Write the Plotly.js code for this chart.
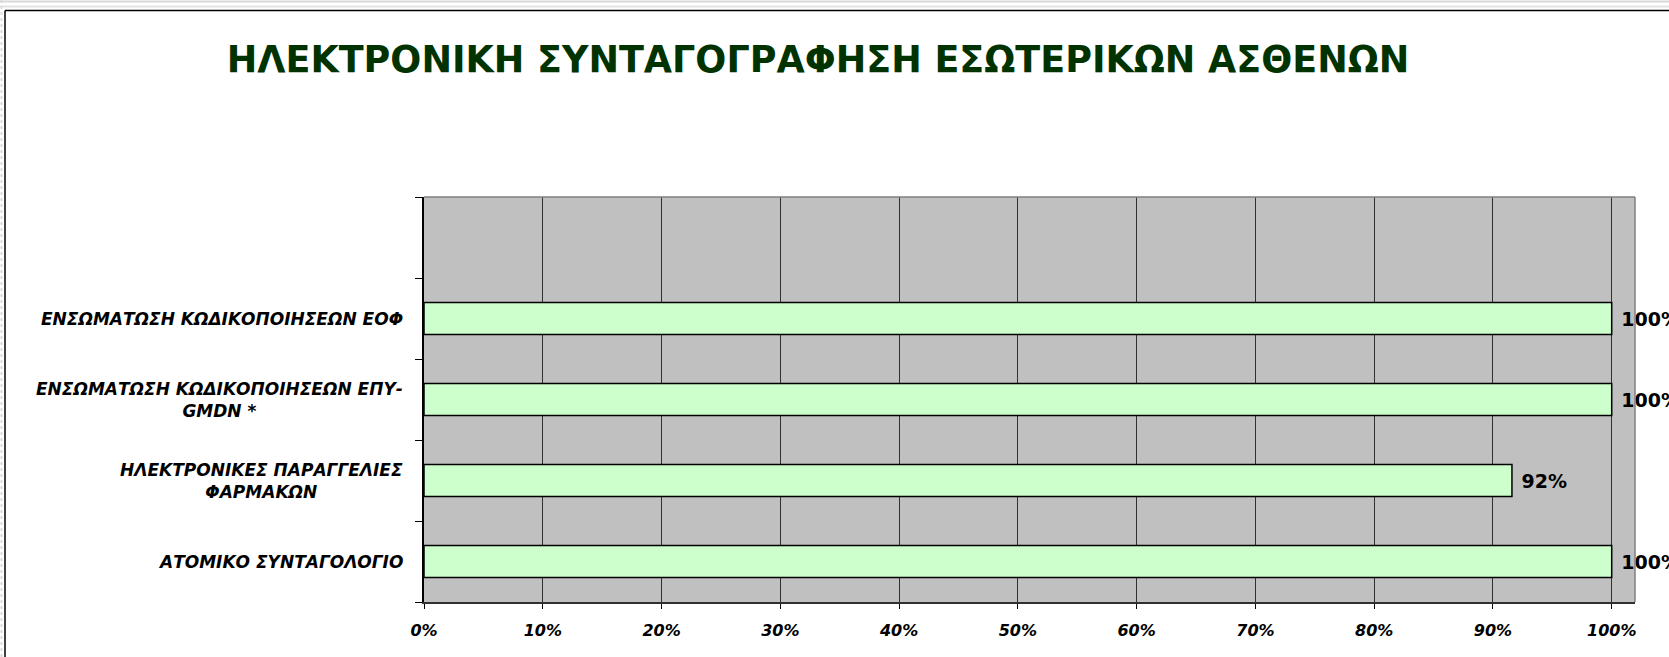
<!DOCTYPE html>
<html>
<head>
<meta charset="utf-8">
<script src="https://cdn.plot.ly/plotly-3.0.1.min.js"></script>
<style>
  html, body { margin: 0; padding: 0; background: #ffffff; }
  #chart { width: 1669px; height: 657px; }
</style>
</head>
<body>
<div id="chart"></div>
<script>
// ---- data (bottom to top, as drawn) ----
const categories = [
  "ΑΤΟΜΙΚΟ ΣΥΝΤΑΓΟΛΟΓΙΟ",
  "ΗΛΕΚΤΡΟΝΙΚΕΣ ΠΑΡΑΓΓΕΛΙΕΣ<br>ΦΑΡΜΑΚΩΝ",
  "ΕΝΣΩΜΑΤΩΣΗ ΚΩΔΙΚΟΠΟΙΗΣΕΩΝ ΕΠΥ-<br>GMDN *",
  "ΕΝΣΩΜΑΤΩΣΗ ΚΩΔΙΚΟΠΟΙΗΣΕΩΝ ΕΟΦ",
  " "
];
const values = [1.00, 0.916, 1.00, 1.00, null];
const xTickVals = [0, 0.1, 0.2, 0.3, 0.4, 0.5, 0.6, 0.7, 0.8, 0.9, 1.0];
const xTickText = ["0%", "10%", "20%", "30%", "40%", "50%", "60%", "70%", "80%", "90%", "100%"];
const chartTitle = "ΗΛΕΚΤΡΟΝΙΚΗ ΣΥΝΤΑΓΟΓΡΑΦΗΣΗ ΕΣΩΤΕΡΙΚΩΝ ΑΣΘΕΝΩΝ";

// ---- layout geometry ----
const W = 1669, H = 657;
const M = { l: 424, r: 34, t: 197, b: 55 };
const PW = W - M.l - M.r, PH = H - M.t - M.b;
const px = X => (X - M.l) / PW;
const py = Y => (H - M.b - Y) / PH;

const FONT = "DejaVu Sans, Verdana, sans-serif";
const TITLE_FONT = "DejaVu Sans, Arial, sans-serif";

const barText = values.map(v => (v === null ? "" : " " + Math.round(v * 100) + "%"));

const trace = {
  type: "bar",
  orientation: "h",
  y: categories,
  x: values,
  text: barText,
  textposition: "outside",
  cliponaxis: false,
  constraintext: "none",
  textfont: { family: FONT, size: 19, color: "#000000", weight: "bold" },
  marker: { color: "#CCFFCC", line: { color: "#000000", width: 1.5 } },
  hoverinfo: "skip"
};

// category labels as annotations (centered multi-line like the original)
const labelAnnotations = categories.filter(c => c.trim() !== "").map(c => ({
  xref: "paper", yref: "y",
  x: 0, y: c,
  xanchor: "right", yanchor: "middle",
  xshift: -19,
  align: "center",
  showarrow: false,
  text: "<b><i>" + c + "</i></b>",
  font: { family: FONT, size: 17, color: "#000000" }
}));

const layout = {
  width: W, height: H,
  margin: M,
  paper_bgcolor: "#ffffff",
  plot_bgcolor: "#C0C0C0",
  showlegend: false,
  bargap: 0.605,
  title: {
    text: "<b>" + chartTitle + "</b>",
    font: { family: TITLE_FONT, size: 36.5, color: "#003300" },
    xref: "container", yref: "container",
    x: 818 / W, xanchor: "center",
    y: 1 - 59 / H, yanchor: "middle"
  },
  xaxis: {
    range: [0, 1.0196],
    tickvals: xTickVals,
    ticktext: xTickText.map(t => "<b><i>" + t + "</i></b>"),
    ticks: "outside", ticklen: 5, tickcolor: "#000000", tickwidth: 1,
    showgrid: true, gridcolor: "#303030", gridwidth: 1,
    zeroline: false,
    showline: true, linecolor: "#303030", linewidth: 1.5,
    tickfont: { family: FONT, size: 16, color: "#000000" },
    ticklabelstandoff: 8,
    fixedrange: true
  },
  yaxis: {
    type: "category",
    categoryorder: "array",
    categoryarray: categories,
    range: [-0.5, categories.length - 0.5],
    tickson: "boundaries",
    ticks: "outside", ticklen: 7, tickcolor: "#000000", tickwidth: 1,
    showticklabels: false,
    showgrid: false,
    zeroline: false,
    showline: true, linecolor: "#000000", linewidth: 2,
    fixedrange: true
  },
  annotations: labelAnnotations,
  shapes: [
    // plot area top & right borders (grey)
    { type: "line", xref: "paper", yref: "paper", x0: 0, x1: 1, y0: 1, y1: 1, line: { color: "#808080", width: 1.5 } },
    { type: "line", xref: "paper", yref: "paper", x0: 1, x1: 1, y0: 0, y1: 1, line: { color: "#808080", width: 1.5 } },
    // outer chart frame (top and left)
    { type: "line", xref: "paper", yref: "paper", x0: px(5), x1: px(W + 5), y0: py(10.5), y1: py(10.5), line: { color: "#000000", width: 1.5 } },
    { type: "line", xref: "paper", yref: "paper", x0: px(5), x1: px(5), y0: py(10.5), y1: py(H + 5), line: { color: "#000000", width: 1.5 } },
    // window edge strips
    { type: "line", xref: "paper", yref: "paper", x0: px(0), x1: px(W + 5), y0: py(1.5), y1: py(1.5), line: { color: "#d8d8d8", width: 2 } },
    { type: "line", xref: "paper", yref: "paper", x0: px(0), x1: px(W + 5), y0: py(6.5), y1: py(6.5), line: { color: "#e2e2e2", width: 2 } },
    { type: "line", xref: "paper", yref: "paper", x0: px(1.5), x1: px(1.5), y0: py(0), y1: py(H + 5), line: { color: "#dcdcdc", width: 2, dash: "dot" } }
  ]
};

Plotly.newPlot("chart", [trace], layout, { staticPlot: true, displayModeBar: false });
</script>
</body>
</html>
